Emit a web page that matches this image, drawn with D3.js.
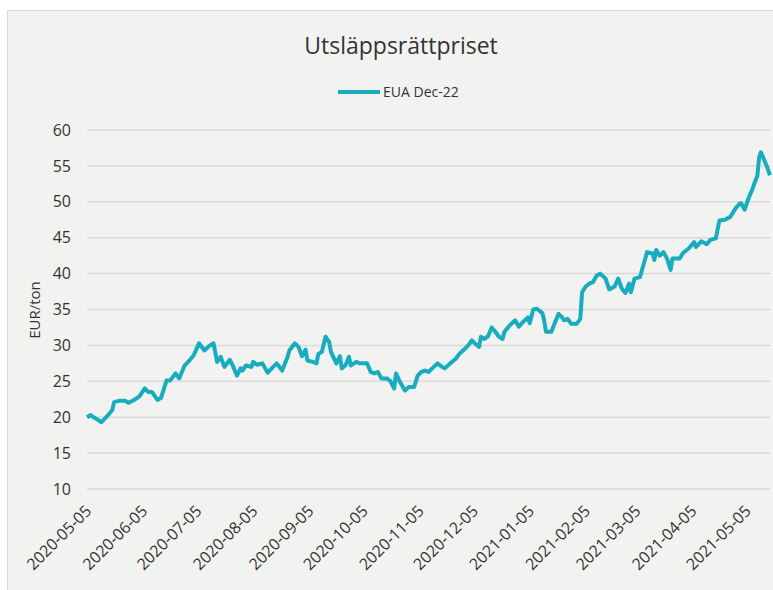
<!DOCTYPE html>
<html>
<head>
<meta charset="utf-8">
<script src="https://cdn.jsdelivr.net/npm/d3@7"></script>
<style>
  body { margin: 0; background: #fff; }
  svg { display: block; font-family: "Open Sans", sans-serif; }
</style>
</head>
<body>
<svg id="chart"></svg>
<script>
// EUA Dec-22 price, EUR/ton
const dates = [
  '2020-05-05','2020-05-07','2020-05-08','2020-05-10','2020-05-13','2020-05-16','2020-05-19','2020-05-20',
  '2020-05-23','2020-05-26','2020-05-28','2020-05-31','2020-06-03','2020-06-06','2020-06-08','2020-06-10',
  '2020-06-13','2020-06-15','2020-06-18','2020-06-20','2020-06-23','2020-06-25','2020-06-28','2020-07-01',
  '2020-07-03','2020-07-06','2020-07-09','2020-07-12','2020-07-14','2020-07-16','2020-07-18','2020-07-20',
  '2020-07-23','2020-07-25','2020-07-27','2020-07-29','2020-07-30','2020-08-01','2020-08-04','2020-08-05',
  '2020-08-07','2020-08-10','2020-08-13','2020-08-16','2020-08-18','2020-08-21','2020-08-24','2020-08-25',
  '2020-08-28','2020-08-30','2020-09-01','2020-09-03','2020-09-04','2020-09-07','2020-09-09','2020-09-10',
  '2020-09-12','2020-09-14','2020-09-16','2020-09-17','2020-09-20','2020-09-22','2020-09-23','2020-09-25',
  '2020-09-27','2020-09-28','2020-10-01','2020-10-03','2020-10-07','2020-10-09','2020-10-11','2020-10-13',
  '2020-10-15','2020-10-18','2020-10-20','2020-10-22','2020-10-23','2020-10-25','2020-10-28','2020-10-30',
  '2020-11-02','2020-11-04','2020-11-06','2020-11-08','2020-11-10','2020-11-12','2020-11-15','2020-11-17',
  '2020-11-19','2020-11-22','2020-11-25','2020-11-27','2020-11-30','2020-12-02','2020-12-04','2020-12-06',
  '2020-12-08','2020-12-09','2020-12-11','2020-12-13','2020-12-15','2020-12-17','2020-12-19','2020-12-21',
  '2020-12-22','2020-12-25','2020-12-28','2020-12-30','2021-01-01','2021-01-04','2021-01-05','2021-01-07',
  '2021-01-09','2021-01-12','2021-01-13','2021-01-14','2021-01-17','2021-01-19','2021-01-21','2021-01-23',
  '2021-01-24','2021-01-26','2021-01-28','2021-01-31','2021-02-02','2021-02-03','2021-02-05','2021-02-07',
  '2021-02-09','2021-02-11','2021-02-13','2021-02-16','2021-02-18','2021-02-21','2021-02-23','2021-02-25',
  '2021-02-27','2021-03-01','2021-03-02','2021-03-04','2021-03-07','2021-03-11','2021-03-14','2021-03-15',
  '2021-03-16','2021-03-18','2021-03-20','2021-03-22','2021-03-24','2021-03-25','2021-03-29','2021-03-31',
  '2021-04-03','2021-04-06','2021-04-07','2021-04-10','2021-04-13','2021-04-15','2021-04-18','2021-04-20',
  '2021-04-23','2021-04-26','2021-04-29','2021-05-01','2021-05-02','2021-05-04','2021-05-06','2021-05-08',
  '2021-05-10','2021-05-11','2021-05-12','2021-05-13','2021-05-16','2021-05-18'
];
const prices = [
  20.0, 20.3, 20.1, 19.8, 19.3, 20.1, 21.0, 22.1,
  22.3, 22.3, 22.0, 22.4, 22.9, 24.0, 23.5, 23.5,
  22.4, 22.7, 25.1, 25.1, 26.1, 25.4, 27.2, 28.0,
  28.6, 30.3, 29.3, 30.0, 30.3, 27.7, 28.4, 27.0,
  28.0, 27.0, 25.8, 26.8, 26.5, 27.2, 27.0, 27.7,
  27.3, 27.5, 26.2, 27.0, 27.5, 26.5, 28.4, 29.3,
  30.3, 29.8, 28.5, 29.4, 27.9, 27.7, 27.5, 28.8,
  29.1, 31.2, 30.5, 29.1, 27.5, 28.5, 26.8, 27.2,
  28.4, 27.2, 27.7, 27.5, 27.5, 26.3, 26.1, 26.3,
  25.4, 25.4, 25.0, 24.0, 26.1, 25.0, 23.7, 24.2,
  24.2, 25.8, 26.3, 26.5, 26.3, 26.8, 27.5, 27.1,
  26.8, 27.5, 28.1, 28.8, 29.5, 30.0, 30.7, 30.2,
  29.8, 31.2, 30.9, 31.3, 32.5, 31.9, 31.2, 30.9,
  31.9, 32.8, 33.5, 32.6, 33.2, 33.9, 33.1, 35.0,
  35.1, 34.5, 33.5, 31.9, 31.9, 33.2, 34.4, 33.9,
  33.5, 33.7, 33.0, 33.0, 33.7, 37.4, 38.2, 38.6,
  38.8, 39.7, 40.0, 39.3, 37.8, 38.2, 39.3, 37.9,
  37.3, 38.6, 37.4, 39.3, 39.5, 43.0, 42.8, 41.9,
  43.3, 42.5, 43.0, 42.1, 40.5, 42.1, 42.1, 42.9,
  43.5, 44.4, 43.7, 44.5, 44.1, 44.7, 44.9, 47.4,
  47.5, 47.9, 49.1, 49.7, 49.8, 48.9, 50.4, 51.6,
  53.0, 53.6, 56.2, 56.9, 55.1, 53.7
];
const xTickLabels = [
  '2020-05-05','2020-06-05','2020-07-05','2020-08-05','2020-09-05','2020-10-05','2020-11-05',
  '2020-12-05','2021-01-05','2021-02-05','2021-03-05','2021-04-05','2021-05-05'
];
const yTicks = [10, 15, 20, 25, 30, 35, 40, 45, 50, 55, 60];
const seriesName = 'EUA Dec-22';
const title = 'Utsläppsrättpriset';
const yTitle = 'EUR/ton';

const W = 773, H = 590;
const lineColor = '#17acbe';
const textColor = '#333333';

const parse = d3.timeParse('%Y-%m-%d');
const data = dates.map((d, i) => ({ date: parse(d), value: prices[i] }));

const svg = d3.select('#chart').attr('width', W).attr('height', H);

// chart area background
svg.append('rect')
  .attr('x', 7.5).attr('y', 10.5)
  .attr('width', W).attr('height', H)
  .attr('fill', '#f2f3f1')
  .attr('stroke', '#d9dbd8');

const x = d3.scaleTime()
  .domain([parse('2020-05-05'), parse('2021-05-18')])
  .range([87, 770]);

const y = d3.scaleLinear()
  .domain([10, 60])
  .range([489, 130]);

// gridlines
svg.append('g')
  .selectAll('line')
  .data(yTicks)
  .join('line')
  .attr('x1', 87).attr('x2', 770)
  .attr('y1', d => y(d)).attr('y2', d => y(d))
  .attr('stroke', '#d9d9d9')
  .attr('stroke-width', 1.5);

// y axis
const yAxis = svg.append('g')
  .attr('transform', 'translate(71,0)')
  .call(d3.axisLeft(y).tickValues(yTicks).tickSize(0).tickPadding(0));
yAxis.select('.domain').remove();
yAxis.selectAll('text')
  .attr('fill', textColor)
  .style('font-size', '16px')
  .style('font-family', '"Open Sans", sans-serif');

// x axis labels, rotated
const xAxis = svg.append('g')
  .attr('transform', 'translate(0,489)')
  .call(d3.axisBottom(x).tickValues(xTickLabels.map(parse)).tickFormat(d3.timeFormat('%Y-%m-%d')).tickSize(0));
xAxis.select('.domain').remove();
xAxis.selectAll('text')
  .attr('fill', textColor)
  .style('font-size', '16px')
  .style('font-family', '"Open Sans", sans-serif')
  .attr('text-anchor', 'end')
  .attr('y', 0)
  .attr('dy', '0.35em')
  .attr('transform', 'translate(1,19) rotate(-45)');

// series line
svg.append('path')
  .datum(data)
  .attr('fill', 'none')
  .attr('stroke', lineColor)
  .attr('stroke-width', 4)
  .attr('stroke-linejoin', 'round')
  .attr('d', d3.line().x(d => x(d.date)).y(d => y(d.value)));

// title
svg.append('text')
  .attr('x', 401).attr('y', 54)
  .attr('text-anchor', 'middle')
  .attr('fill', textColor)
  .style('font-size', '23px')
  .text(title);

// legend
svg.append('line')
  .attr('x1', 338).attr('x2', 380)
  .attr('y1', 92).attr('y2', 92)
  .attr('stroke', lineColor)
  .attr('stroke-width', 4);
svg.append('text')
  .attr('x', 383).attr('y', 92)
  .attr('dy', '0.35em')
  .attr('fill', textColor)
  .style('font-size', '14px')
  .text(seriesName);

// y title
svg.append('text')
  .attr('transform', 'translate(35,310) rotate(-90)')
  .attr('text-anchor', 'middle')
  .attr('dy', '0.35em')
  .attr('fill', textColor)
  .style('font-size', '15px')
  .text(yTitle);
</script>
</body>
</html>
